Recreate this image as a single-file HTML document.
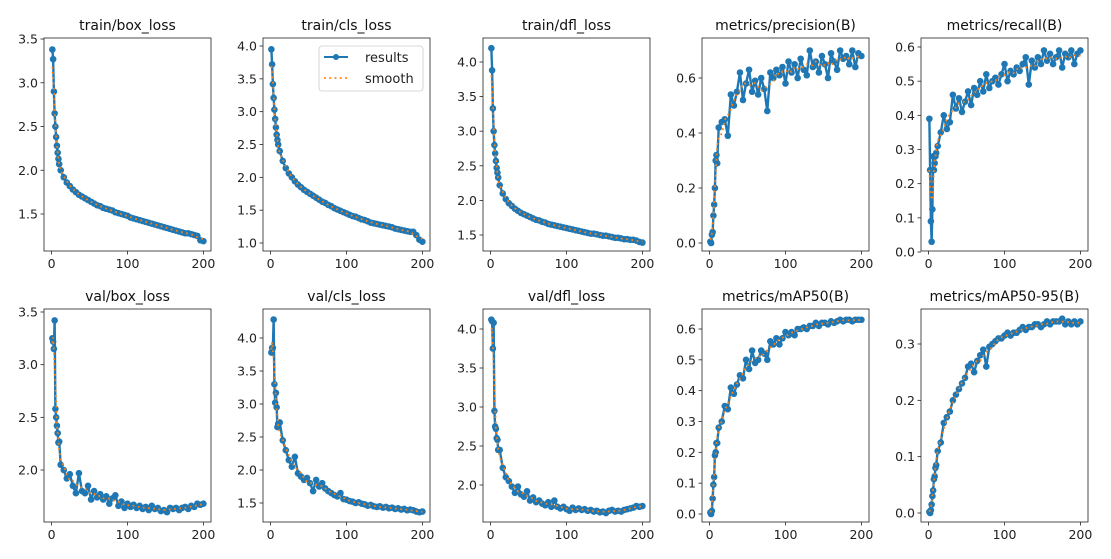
<!DOCTYPE html>
<html><head><meta charset="utf-8"><style>
html,body{margin:0;padding:0;background:#fff;}
svg{display:block;font-family:"DejaVu Sans","Liberation Sans",sans-serif;}
</style></head><body>
<svg id="fig" width="1111" height="559" viewBox="0 0 1111 559" xmlns="http://www.w3.org/2000/svg"></svg>
<script>
const epochs=[1,2,3,4,5,6,7,8,9,10,12,16,20,24,28,32,36,40,44,48,52,56,60,64,68,72,76,80,84,88,92,96,100,104,108,112,116,120,124,128,132,136,140,144,148,152,156,160,164,168,172,176,180,184,188,192,196,200];
const trainBox=[3.38,3.27,2.9,2.65,2.5,2.38,2.28,2.2,2.13,2.07,2.0,1.92,1.86,1.82,1.78,1.75,1.72,1.70,1.68,1.66,1.64,1.62,1.60,1.59,1.57,1.56,1.55,1.54,1.52,1.51,1.50,1.49,1.48,1.46,1.45,1.44,1.43,1.42,1.41,1.40,1.39,1.38,1.37,1.36,1.35,1.34,1.33,1.32,1.31,1.30,1.29,1.28,1.28,1.27,1.26,1.25,1.20,1.19];
const trainCls=[3.95,3.72,3.42,3.21,3.03,2.89,2.76,2.65,2.57,2.5,2.4,2.25,2.14,2.06,2.0,1.94,1.89,1.85,1.81,1.78,1.75,1.72,1.69,1.66,1.63,1.61,1.58,1.56,1.53,1.51,1.49,1.47,1.45,1.43,1.41,1.40,1.38,1.36,1.35,1.33,1.31,1.30,1.29,1.28,1.27,1.26,1.25,1.24,1.22,1.21,1.20,1.19,1.18,1.17,1.17,1.12,1.05,1.02];
const trainDfl=[4.2,3.88,3.33,3.0,2.8,2.68,2.57,2.47,2.4,2.33,2.22,2.1,2.02,1.96,1.92,1.88,1.85,1.82,1.80,1.78,1.76,1.74,1.72,1.71,1.69,1.68,1.66,1.65,1.64,1.63,1.62,1.61,1.60,1.59,1.58,1.57,1.56,1.55,1.54,1.53,1.52,1.52,1.51,1.50,1.49,1.49,1.48,1.47,1.46,1.46,1.45,1.44,1.44,1.43,1.43,1.42,1.40,1.39];
const precision=[0.005,0.0,0.03,0.04,0.1,0.14,0.2,0.3,0.32,0.29,0.42,0.44,0.45,0.39,0.54,0.5,0.55,0.62,0.52,0.58,0.63,0.55,0.59,0.54,0.6,0.56,0.48,0.62,0.6,0.63,0.61,0.64,0.58,0.66,0.62,0.65,0.6,0.67,0.63,0.61,0.7,0.64,0.66,0.62,0.68,0.65,0.6,0.69,0.66,0.63,0.7,0.67,0.68,0.65,0.7,0.64,0.69,0.68];
const recall=[0.39,0.24,0.09,0.03,0.125,0.28,0.24,0.26,0.28,0.29,0.31,0.35,0.4,0.36,0.38,0.46,0.42,0.45,0.41,0.44,0.47,0.43,0.48,0.46,0.5,0.47,0.52,0.48,0.5,0.51,0.49,0.52,0.55,0.5,0.53,0.52,0.54,0.53,0.55,0.57,0.49,0.56,0.54,0.57,0.55,0.59,0.56,0.58,0.55,0.57,0.59,0.54,0.58,0.57,0.59,0.55,0.58,0.59];
const valBox=[3.25,3.22,3.15,3.42,2.58,2.5,2.42,2.35,2.26,2.27,2.05,2.0,1.92,1.96,1.85,1.78,1.97,1.8,1.78,1.85,1.72,1.8,1.74,1.77,1.72,1.75,1.68,1.73,1.76,1.66,1.7,1.64,1.68,1.65,1.67,1.64,1.66,1.63,1.65,1.62,1.66,1.63,1.64,1.61,1.62,1.6,1.64,1.63,1.64,1.62,1.64,1.65,1.63,1.66,1.65,1.68,1.67,1.68];
const valCls=[3.78,3.85,3.85,4.28,3.3,3.02,3.17,2.95,2.65,2.7,2.72,2.45,2.3,2.15,2.05,2.2,1.95,1.9,1.85,1.88,1.8,1.68,1.85,1.75,1.8,1.72,1.68,1.65,1.62,1.6,1.65,1.56,1.55,1.53,1.52,1.5,1.51,1.49,1.48,1.46,1.47,1.45,1.44,1.45,1.43,1.44,1.42,1.43,1.41,1.42,1.4,1.41,1.39,1.40,1.39,1.37,1.36,1.37];
const valDfl=[4.12,4.1,3.75,4.08,2.95,2.75,2.72,2.6,2.58,2.45,2.45,2.22,2.1,2.05,1.98,1.9,1.98,1.88,1.85,1.92,1.8,1.84,1.78,1.8,1.76,1.74,1.78,1.72,1.8,1.72,1.7,1.72,1.69,1.67,1.71,1.68,1.70,1.68,1.69,1.67,1.68,1.66,1.67,1.65,1.66,1.64,1.67,1.68,1.66,1.67,1.66,1.68,1.69,1.70,1.71,1.73,1.72,1.73];
const map50=[0.005,0.0,0.01,0.05,0.095,0.12,0.19,0.2,0.23,0.23,0.28,0.3,0.35,0.34,0.41,0.39,0.42,0.45,0.44,0.5,0.47,0.53,0.49,0.5,0.53,0.52,0.5,0.56,0.55,0.57,0.55,0.57,0.59,0.58,0.59,0.58,0.6,0.6,0.605,0.6,0.61,0.61,0.62,0.61,0.62,0.62,0.615,0.625,0.62,0.625,0.63,0.625,0.63,0.63,0.625,0.63,0.63,0.63];
const map5095=[0.002,0.0,0.005,0.015,0.03,0.04,0.06,0.065,0.08,0.085,0.11,0.125,0.16,0.17,0.18,0.2,0.21,0.22,0.23,0.24,0.26,0.265,0.25,0.27,0.28,0.29,0.26,0.295,0.3,0.305,0.31,0.31,0.315,0.32,0.315,0.32,0.32,0.325,0.33,0.325,0.33,0.33,0.335,0.335,0.33,0.335,0.34,0.335,0.34,0.34,0.34,0.345,0.335,0.34,0.335,0.34,0.335,0.34];
const xTicks=[0,100,200];
const titles=["train/box_loss","train/cls_loss","train/dfl_loss","metrics/precision(B)","metrics/recall(B)","val/box_loss","val/cls_loss","val/dfl_loss","metrics/mAP50(B)","metrics/mAP50-95(B)"];
const yTickSets=[[1.5,2.0,2.5,3.0,3.5],[1.0,1.5,2.0,2.5,3.0,3.5,4.0],[1.5,2.0,2.5,3.0,3.5,4.0],[0.0,0.2,0.4,0.6],[0.0,0.1,0.2,0.3,0.4,0.5,0.6],[2.0,2.5,3.0,3.5],[1.5,2.0,2.5,3.0,3.5,4.0],[2.0,2.5,3.0,3.5,4.0],[0.0,0.1,0.2,0.3,0.4,0.5,0.6],[0.0,0.1,0.2,0.3]];
const series=[trainBox,trainCls,trainDfl,precision,recall,valBox,valCls,valDfl,map50,map5095];
const NS="http://www.w3.org/2000/svg";
const svg=document.getElementById('fig');
function mk(tag,attrs,parent){const e=document.createElementNS(NS,tag);for(const k in attrs)e.setAttribute(k,attrs[k]);(parent||svg).appendChild(e);return e;}
const lefts=[44,263,483,702,921], W=167;
const rows=[{top:38,bot:251},{top:309,bot:522}];
const yCal=[[3.5,39,1.5,214],[4.0,46,1.0,243],[4.0,62,1.5,235],[0.6,78,0.0,243],[0.6,47,0.0,252],[3.5,312,2.0,470],[4.0,338,1.5,503],[4.0,329,2.0,485],[0.6,329,0.0,514],[0.3,344,0.0,513]];
function smooth(a){return a.map((v,i)=>{let s=0,n=0;for(let j=Math.max(0,i-2);j<=Math.min(a.length-1,i+2);j++){s+=a[j];n++;}return s/n;});}
for(let p=0;p<10;p++){
  const L=lefts[p%5], R=L+W, row=rows[Math.floor(p/5)];
  const g=mk('g',{});
  
  
  const xs=v=>L+7.6+(v/200)*(W-15.2);
  const c=yCal[p]; const ys=v=>c[1]+(v-c[0])*(c[3]-c[1])/(c[2]-c[0]);
  const t=mk('text',{x:(L+R)/2,y:row.top-8,'text-anchor':'middle','font-size':14,fill:'#111'},g);t.textContent=titles[p];
  
  xTicks.forEach(v=>{const x=xs(v);mk('line',{x1:x,x2:x,y1:row.bot,y2:row.bot+3.5,stroke:'#222','stroke-width':0.8},g);
    const tt=mk('text',{x:x,y:row.bot+17,'text-anchor':'middle','font-size':12.5,fill:'#222'},g);tt.textContent=v;
    });
  yTickSets[p].forEach(v=>{const y=ys(v);mk('line',{x1:L-3.5,x2:L,y1:y,y2:y,stroke:'#222','stroke-width':0.8},g);
    const tt=mk('text',{x:L-6,y:y+4.5,'text-anchor':'end','font-size':12.5,fill:'#222'},g);tt.textContent=v.toFixed(1);
    });
  const d=series[p];
  const pts=d.map((v,i)=>xs(epochs[i]).toFixed(2)+','+ys(v).toFixed(2)).join(' ');
  const line=mk('polyline',{points:pts,fill:'none',stroke:'#1f77b4','stroke-width':2.4,'stroke-linejoin':'round'},g);
  
  d.forEach((v,i)=>{const m=mk('circle',{cx:xs(epochs[i]),cy:ys(v),r:3.3,fill:'#1f77b4'},g);
    });
  const sm=smooth(d);
  const sl=mk('polyline',{points:sm.map((v,i)=>xs(epochs[i]).toFixed(2)+','+ys(v).toFixed(2)).join(' '),fill:'none',stroke:'#ff7f0e','stroke-width':1.8,'stroke-dasharray':'1.8,3.5'},g);
  
  const fr=mk('rect',{x:L,y:row.top,width:W,height:row.bot-row.top,fill:'none',stroke:'#222','stroke-width':0.8},g);
  
  if(p===1){
    const lg=mk('g',{},g);
    
    mk('rect',{x:319,y:46,width:104,height:45,rx:3,fill:'#fff','fill-opacity':0.85,stroke:'#ccc','stroke-width':0.8},lg);
    mk('line',{x1:324,x2:348,y1:57,y2:57,stroke:'#1f77b4','stroke-width':2},lg);
    mk('circle',{cx:336,cy:57,r:3,fill:'#1f77b4'},lg);
    const l1=mk('text',{x:365,y:62,'font-size':13,fill:'#222'},lg);l1.textContent='results';
    
    mk('line',{x1:324,x2:348,y1:78,y2:78,stroke:'#ff7f0e','stroke-width':1.8,'stroke-dasharray':'1.8,3.5'},lg);
    const l2=mk('text',{x:365,y:83,'font-size':13,fill:'#222'},lg);l2.textContent='smooth';
    
  }
}
</script>
</body></html>
